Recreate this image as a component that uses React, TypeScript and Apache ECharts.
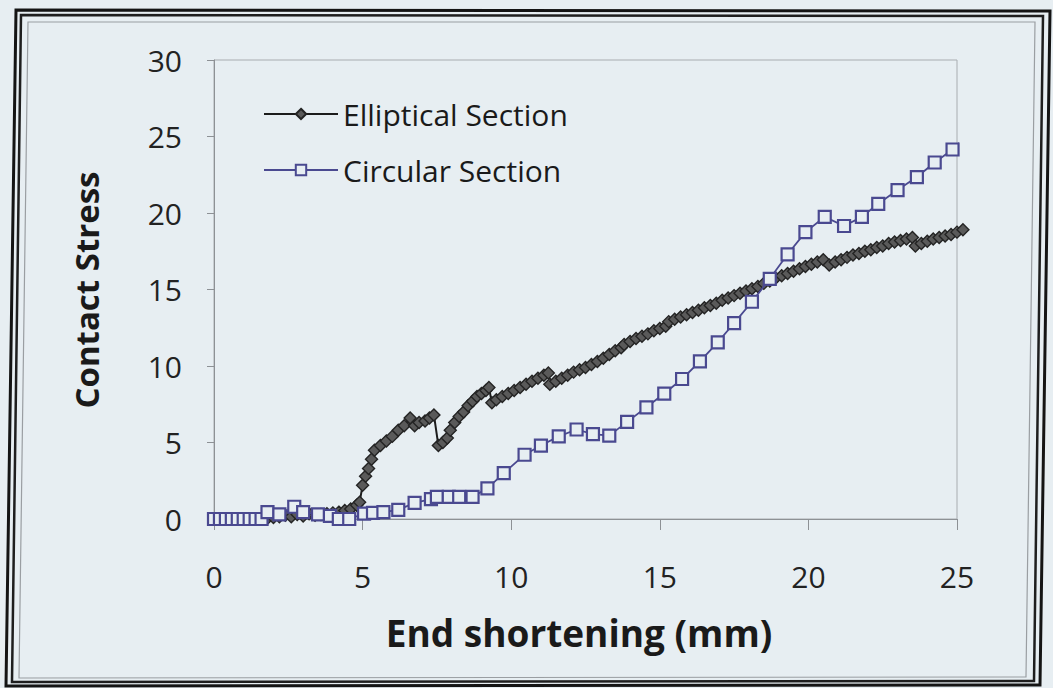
import React, { useEffect, useRef } from "react";
import * as echarts from "echarts";

const seriesNames = ["Elliptical Section", "Circular Section"];
const xAxisTitle = "End shortening (mm)";
const yAxisTitle = "Contact Stress";

const xMin = 0;
const xMax = 25;
const xStep = 5;
const yMin = 0;
const yMax = 30;
const yStep = 5;

const ellipticalX = [
  0, 0.2, 0.4, 0.6, 0.8, 1.0, 1.2, 1.4, 1.6, 1.8, 2.0, 2.2, 2.4, 2.6, 2.8, 3.0, 3.2, 3.4, 3.6, 3.8,
  4.0, 4.2, 4.4, 4.6, 4.8, 4.9, 5.0, 5.1, 5.2, 5.3, 5.4, 5.6, 5.8, 6.0, 6.2, 6.4, 6.6, 6.75, 6.9, 7.1,
  7.25, 7.4, 7.55, 7.7, 7.85, 7.95, 8.1, 8.25, 8.4, 8.55, 8.7, 8.85, 9.0, 9.15, 9.25, 9.35, 9.5, 9.7, 9.9, 10.1,
  10.3, 10.5, 10.7, 10.9, 11.1, 11.25, 11.3, 11.5, 11.7, 11.9, 12.1, 12.3, 12.5, 12.7, 12.9, 13.1, 13.3, 13.5, 13.7, 13.8,
  14.0, 14.2, 14.4, 14.6, 14.8, 15.0, 15.2, 15.3, 15.5, 15.7, 15.9, 16.1, 16.3, 16.5, 16.7, 16.9, 17.1, 17.3, 17.5, 17.7,
  17.9, 18.1, 18.3, 18.5, 18.7, 18.9, 19.1, 19.3, 19.5, 19.7, 19.9, 20.1, 20.3, 20.5, 20.7, 20.9, 21.1, 21.3, 21.5, 21.7,
  21.9, 22.1, 22.3, 22.5, 22.7, 22.9, 23.1, 23.3, 23.5, 23.6, 23.8, 24.0, 24.2, 24.4, 24.6, 24.8, 25.0, 25.2,
];
const ellipticalY = [
  0, 0, 0, 0, 0, 0, 0, 0, 0, 0.05, 0.1, 0.15, 0.25, 0.15, 0.3, 0.2, 0.35, 0.25, 0.3, 0.35,
  0.4, 0.45, 0.55, 0.65, 0.9, 1.1, 2.2, 2.8, 3.3, 3.9, 4.5, 4.8, 5.1, 5.4, 5.8, 6.1, 6.6, 6.1, 6.3, 6.4,
  6.6, 6.8, 4.8, 5.0, 5.3, 5.8, 6.3, 6.7, 7.0, 7.4, 7.7, 8.0, 8.2, 8.4, 8.6, 7.6, 7.8, 8.0, 8.2, 8.4,
  8.6, 8.8, 9.0, 9.2, 9.4, 9.55, 8.8, 9.0, 9.2, 9.4, 9.6, 9.75, 9.9, 10.1, 10.3, 10.5, 10.75, 11.0, 11.2, 11.4,
  11.6, 11.8, 11.95, 12.1, 12.3, 12.45, 12.6, 12.9, 13.05, 13.2, 13.35, 13.5, 13.65, 13.8, 13.95, 14.1, 14.3, 14.45, 14.6, 14.75,
  14.9, 15.05, 15.2, 15.4, 15.55, 15.75, 15.9, 16.05, 16.2, 16.35, 16.5, 16.65, 16.8, 16.95, 16.6, 16.8, 16.95, 17.1, 17.25, 17.35,
  17.5, 17.6, 17.75, 17.85, 18.0, 18.1, 18.2, 18.3, 18.4, 17.85, 18.0, 18.15, 18.3, 18.4, 18.5, 18.6, 18.75, 18.9,
];

const circularX = [
  0, 0.2, 0.4, 0.6, 0.8, 1.0, 1.2, 1.4, 1.6, 1.8, 2.2, 2.7, 3.0, 3.5, 3.9, 4.2, 4.55, 5.05, 5.35, 5.7,
  6.2, 6.75, 7.3, 7.5, 7.9, 8.25, 8.7, 9.2, 9.75, 10.45, 11.0, 11.6, 12.2, 12.75, 13.3, 13.9, 14.55, 15.15, 15.75, 16.35,
  16.95, 17.5, 18.1, 18.7, 19.3, 19.9, 20.55, 21.2, 21.8, 22.35, 23.0, 23.65, 24.25, 24.85, 25.25,
];
const circularY = [
  0, 0, 0, 0, 0, 0, 0, 0, 0, 0.45, 0.3, 0.8, 0.45, 0.3, 0.2, 0, 0, 0.35, 0.4, 0.45,
  0.6, 1.05, 1.3, 1.45, 1.45, 1.45, 1.45, 2.0, 3.0, 4.2, 4.8, 5.4, 5.85, 5.55, 5.45, 6.35, 7.3, 8.2, 9.15, 10.3,
  11.55, 12.8, 14.2, 15.7, 17.3, 18.75, 19.75, 19.15, 19.75, 20.6, 21.5, 22.35, 23.3, 24.15, 24.9,
];

const FONT = "'Open Sans', Lato, sans-serif";
const BG = "#e7eef2";
const ELL_LINE = "#1c1c1c";
const CIRC = "#4a4990";

export default function App() {
  const ref = useRef<HTMLDivElement>(null);

  useEffect(() => {
    if (!ref.current) return;
    const chart = echarts.init(ref.current, null, { renderer: "svg" });

    const ellData = ellipticalX.map((x, i) => [x, ellipticalY[i]]);
    const circData = circularX.map((x, i) =>
      i === circularX.length - 1
        ? { value: [x, circularY[i]], symbol: "none" }
        : [x, circularY[i]]
    );

    const frame = (pts: number[][], w: number, color: string) => ({
      type: "polygon",
      silent: true,
      shape: { points: pts },
      style: { fill: "none", stroke: color, lineWidth: w },
      z: 1,
    });

    chart.setOption({
      animation: false,
      backgroundColor: BG,
      grid: {
        left: 214,
        right: 96,
        top: 60,
        bottom: 169,
        show: true,
        borderColor: "#a8acb0",
        borderWidth: 1,
        backgroundColor: "transparent",
      },
      legend: {
        orient: "vertical",
        left: 258,
        top: 93,
        itemWidth: 74,
        itemHeight: 13,
        itemGap: 24,
        textStyle: { fontFamily: FONT, fontSize: 30, color: "#1a1a1a", lineHeight: 32 },
        data: seriesNames,
      },
      xAxis: {
        type: "value",
        min: xMin,
        max: xMax,
        interval: xStep,
        splitLine: { show: false },
        axisLine: { onZero: false, lineStyle: { color: "#8d9195", width: 1 } },
        axisTick: { show: true, inside: false, length: 11, lineStyle: { color: "#8d9195" } },
        axisLabel: { fontFamily: FONT, fontSize: 30, color: "#222", margin: 42 },
      },
      yAxis: {
        type: "value",
        min: yMin,
        max: yMax,
        interval: yStep,
        splitLine: { show: false },
        axisLine: { show: true, lineStyle: { color: "#8d9195", width: 1 } },
        axisTick: { show: true, inside: false, length: 7, lineStyle: { color: "#8d9195" } },
        axisLabel: { fontFamily: FONT, fontSize: 30, color: "#222", margin: 32 },
      },
      graphic: [
        frame([[16, 10], [1050, 11], [1040, 685], [6, 686]], 3, "#141414"),
        frame([[21, 15], [1043, 16], [1034, 681], [12, 682]], 2.5, "#1e1e1e"),
        frame([[28, 22], [1035, 22], [1026, 677], [19, 678]], 1.2, "#9a9ea2"),
        {
          type: "text",
          silent: true,
          x: 579,
          y: 632,
          style: {
            text: xAxisTitle,
            fontFamily: FONT,
            fontWeight: "bold",
            fontSize: 37,
            fill: "#1a1a1a",
            align: "center",
            verticalAlign: "middle",
          },
        },
        {
          type: "text",
          silent: true,
          x: 86,
          y: 290,
          rotation: Math.PI / 2,
          style: {
            text: yAxisTitle,
            fontFamily: FONT,
            fontWeight: "bold",
            fontSize: 33,
            fill: "#1a1a1a",
            align: "center",
            verticalAlign: "middle",
          },
        },
      ],
      series: [
        {
          name: seriesNames[0],
          type: "line",
          data: ellData,
          clip: false,
          symbol: "diamond",
          symbolSize: 12,
          showAllSymbol: true,
          lineStyle: { color: ELL_LINE, width: 2 },
          itemStyle: { color: "#5a5a5a", borderColor: "#242424", borderWidth: 1.4 },
          z: 2,
        },
        {
          name: seriesNames[1],
          type: "line",
          data: circData,
          clip: false,
          symbol: "rect",
          symbolSize: 12,
          showAllSymbol: true,
          lineStyle: { color: CIRC, width: 1.8 },
          itemStyle: { color: BG, borderColor: CIRC, borderWidth: 2.2 },
          z: 3,
        },
      ],
    });

    return () => chart.dispose();
  }, []);

  return (
    <div
      ref={ref}
      style={{ position: "fixed", left: 0, top: 0, width: 1053, height: 688 }}
    />
  );
}
